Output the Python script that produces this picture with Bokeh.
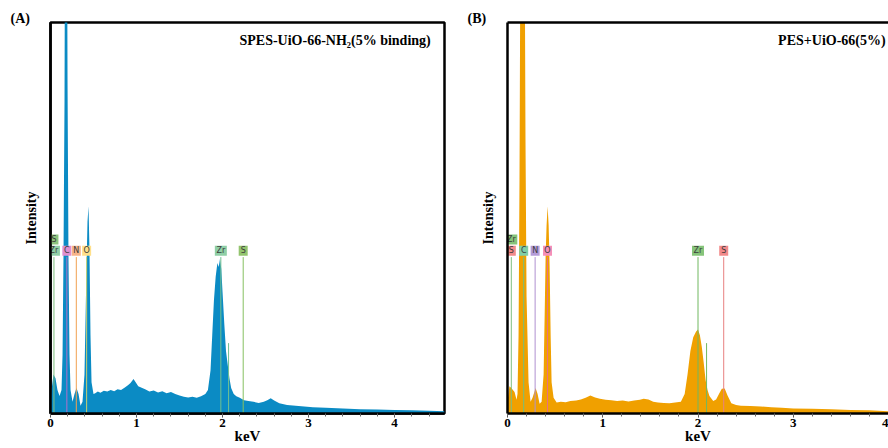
from bokeh.plotting import figure
from bokeh.layouts import row
from bokeh.models import Label, LinearAxis, FixedTicker, SingleIntervalTicker, Range1d
from bokeh.core.properties import value
from bokeh.embed import file_html
from bokeh.resources import INLINE

# ---------------- data ----------------
# Panel A: SPES-UiO-66-NH2 (5% binding)
a_kev = [0.000, 0.012, 0.035, 0.058, 0.081, 0.105, 0.128, 0.140, 0.151, 0.163, 0.169, 0.192, 0.198, 0.209,
         0.221, 0.233, 0.256, 0.279, 0.302, 0.326, 0.349, 0.372, 0.395, 0.407, 0.419, 0.430, 0.442, 0.453,
         0.465, 0.477, 0.500, 0.52, 0.55, 0.58, 0.62, 0.66, 0.70, 0.74, 0.78, 0.82, 0.86, 0.90, 0.93, 0.965,
         0.99, 1.02, 1.06, 1.10, 1.15, 1.20, 1.25, 1.30, 1.35, 1.40, 1.45, 1.50, 1.55, 1.60, 1.65, 1.70, 1.75,
         1.80, 1.83, 1.86, 1.88, 1.90, 1.92, 1.94, 1.955, 1.97, 1.985, 2.00, 2.02, 2.04, 2.06, 2.08, 2.10,
         2.13, 2.16, 2.20, 2.25, 2.30, 2.36, 2.42, 2.48, 2.52, 2.56, 2.60, 2.66, 2.75, 2.85, 2.95, 3.05, 3.2,
         3.4, 3.6, 3.8, 4.0, 4.2, 4.4, 4.58]
a_int = [2, 6, 10, 9, 6, 4.5, 6, 15, 40, 80, 130, 130, 85, 40,
         15, 6, 3, 5, 6.5, 5, 2, 3, 10, 24, 38, 49, 53, 42,
         20, 8, 5, 5.2, 5.6, 5.3, 5.8, 5.6, 6.0, 5.7, 6.2, 6.0, 6.6, 7.2, 7.8, 8.8,
         8.0, 7.0, 6.6, 6.2, 5.6, 5.9, 5.4, 5.7, 5.2, 5.5, 5.0, 4.6, 4.3, 4.1, 4.3, 4.0, 4.4,
         5.0, 6.0, 11, 20, 29, 35, 38.5, 37.5, 39.5, 37, 31, 23, 16, 12.5, 9, 6.5,
         5, 4.4, 4.0, 3.4, 3.2, 3.0, 2.7, 3.0, 3.4, 3.9, 3.3, 2.6, 2.2, 2.0, 1.8, 1.6, 1.5,
         1.3, 1.1, 1.0, 0.9, 0.8, 0.7, 0.6]

# Panel B: PES+UiO-66 (5%)
b_kev = [0.000, 0.02, 0.04, 0.074, 0.095, 0.105, 0.116, 0.126, 0.137, 0.179, 0.189, 0.20, 0.221, 0.242,
         0.263, 0.295, 0.316, 0.337, 0.358, 0.379, 0.39, 0.40, 0.41, 0.421, 0.432, 0.442, 0.453, 0.463,
         0.484, 0.516, 0.56, 0.61, 0.66, 0.72, 0.77, 0.82, 0.87, 0.92, 0.97, 1.03, 1.09, 1.15, 1.21, 1.27,
         1.33, 1.39, 1.43, 1.48, 1.53, 1.58, 1.64, 1.70, 1.76, 1.82, 1.86, 1.89, 1.92, 1.95, 1.98, 2.00,
         2.02, 2.04, 2.06, 2.08, 2.10, 2.12, 2.16, 2.19, 2.22, 2.25, 2.28, 2.31, 2.35, 2.40, 2.45, 2.55,
         2.66, 2.77, 2.88, 3.0, 3.2, 3.4, 3.6, 3.8, 4.0]
b_int = [3, 7, 6.5, 5.5, 3.5, 5, 20, 60, 130, 130, 70, 30, 8, 3,
         4, 6.5, 5, 2.5, 3, 10, 25, 40, 48, 53, 48, 38, 20, 8,
         4, 2.8, 3.0, 2.9, 3.2, 3.3, 3.6, 4.0, 4.6, 4.1, 3.8, 3.5, 3.4, 3.2, 3.3, 3.1,
         3.3, 3.5, 3.8, 3.6, 3.0, 2.8, 2.7, 2.6, 2.8, 3.0, 5, 10, 16, 19.5, 21, 21.5,
         20, 17, 13, 8.5, 6, 4.5, 3.2, 3.6, 5, 6.3, 6.4, 4.6, 2.6, 2.2, 2.0, 1.9,
         1.8, 1.6, 1.5, 1.3, 1.2, 1.1, 0.9, 0.8, 0.6]

# element markers: name, keV, tier (1 = upper box, 0 = lower row)
a_el_name = ["S", "Zr", "C", "N", "O", "Zr", "S"]
a_el_kev = [0.04, 0.04, 0.19, 0.30, 0.42, 1.98, 2.24]
a_el_tier = [1, 0, 0, 0, 0, 0, 0]
a_el_box = ["#8cc47e", "#8fcfa6", "#e08fd0", "#f7b48a", "#ffe08a", "#8fcfa6", "#93c46e"]
a_el_line = ["#7fbf7f", None, "#b070c8", "#f0a050", "#c8d070", "#70bf90", "#86c060"]
a_extra_kev = [2.07]
a_extra_top = [18]

b_el_name = ["Zr", "S", "C", "N", "O", "Zr", "S"]
b_el_kev = [0.04, 0.04, 0.17, 0.29, 0.42, 2.00, 2.27]
b_el_tier = [1, 0, 0, 0, 0, 0, 0]
b_el_box = ["#86c47a", "#f28a8a", "#80cfa8", "#b49bd8", "#f58fb8", "#86c47a", "#f28a8a"]
b_el_line = ["#7fbf7f", None, "#70c080", "#b090d0", "#e87080", "#70b860", "#e88080"]
b_extra_kev = [2.09]
b_extra_top = [18]

SERIF = "Liberation Serif"


def make_panel(kev, inten, color, xend, width, border_right, names, ekev, tiers, boxc, linec,
               extra_kev, extra_top, title, title_x, tag, tag_offset, full_outline):
    p = figure(width=width, height=448, x_range=Range1d(0, xend), y_range=Range1d(0, 100),
               output_backend="svg", toolbar_location=None, title=tag, title_location="above",
               min_border_left=50, min_border_right=border_right, min_border_top=22, min_border_bottom=35)
    p.background_fill_color = "white"
    p.border_fill_color = "white"
    p.grid.visible = False

    p.title.align = "left"
    p.title.offset = tag_offset
    p.title.standoff = -6
    p.title.text_font = SERIF
    p.title.text_font_style = "bold"
    p.title.text_font_size = "14px"
    p.title.text_color = "black"

    p.varea(x=kev, y1=0, y2=inten, fill_color=color)

    # marker lines
    lx = [k for k, c in zip(ekev, linec) if c is not None]
    lc = [c for c in linec if c is not None]
    p.segment(x0=lx, y0=[0] * len(lx), x1=lx, y1=[40] * len(lx), line_color=lc, line_width=1)
    p.segment(x0=extra_kev, y0=[0] * len(extra_kev), x1=extra_kev, y1=extra_top,
              line_color=lc[-2], line_width=1)

    # element boxes
    yc = [44.5 if t == 1 else 41.6 for t in tiers]
    bw = [6 + 3 * len(n) for n in names]
    p.rect(x=ekev, y=yc, width=bw, height=[10] * len(names), width_units="screen",
           height_units="screen", fill_color=boxc, line_color=None)
    p.text(x=ekev, y=yc, text=names, text_align="center", text_baseline="middle",
           text_font_size="8px", text_color="#3c3c3c", text_font=value("DejaVu Sans"))

    # axes
    xa = p.below[0]
    xa.ticker = SingleIntervalTicker(interval=1, num_minor_ticks=5)
    xa.axis_line_width = 2.5
    xa.axis_line_color = "black"
    xa.major_tick_out = 4
    xa.major_tick_in = 0
    xa.minor_tick_out = 3
    xa.minor_tick_in = 0
    xa.major_tick_line_color = "#444444"
    xa.minor_tick_line_color = "#666666"
    xa.major_label_text_font = SERIF
    xa.major_label_text_font_style = "bold"
    xa.major_label_text_font_size = "13px"
    xa.major_label_text_color = "black"
    xa.major_label_standoff = 1
    xa.axis_label = "keV"
    xa.axis_label_text_font = SERIF
    xa.axis_label_text_font_style = "bold"
    xa.axis_label_text_font_size = "15px"
    xa.axis_label_text_color = "black"
    xa.axis_label_standoff = -2

    ya = p.left[0]
    ya.ticker = FixedTicker(ticks=[])
    ya.axis_line_width = 2.5
    ya.axis_line_color = "black"
    ya.major_tick_out = 0
    ya.minor_tick_out = 0
    ya.axis_label = "Intensity"
    ya.axis_label_text_font = SERIF
    ya.axis_label_text_font_style = "bold"
    ya.axis_label_text_font_size = "14px"
    ya.axis_label_text_color = "black"
    ya.axis_label_standoff = 12

    if full_outline:
        p.outline_line_color = "black"
        p.outline_line_width = 2.5
        p.outline_line_alpha = 1.0
    else:
        p.outline_line_color = None
        top = LinearAxis(ticker=FixedTicker(ticks=[]), axis_line_width=2.5, axis_line_color="black",
                         major_tick_out=0, minor_tick_out=0, major_label_text_font_size="0px")
        p.add_layout(top, "above")

    p.add_layout(Label(x=title_x, y=95.4, text=title, text_align="right", text_baseline="middle",
                       text_font=SERIF, text_font_style="bold", text_font_size="14px",
                       text_color="black"))
    return p


pa = make_panel(a_kev, a_int, "#0B8BC4", 4.58, 457, 13, a_el_name, a_el_kev, a_el_tier, a_el_box,
                a_el_line, a_extra_kev, a_extra_top, "SPES-UiO-66-NH\u2082(5% binding)", 4.42,
                "(A)", -40, True)
pb = make_panel(b_kev, b_int, "#F0A000", 4.0, 431, 0, b_el_name, b_el_kev, b_el_tier, b_el_box,
                b_el_line, b_extra_kev, b_extra_top, "PES+UiO-66(5%)", 3.97,
                "(B)", -40, False)

layout = row(pa, pb)
open("out.html", "w").write(file_html(layout, INLINE))
